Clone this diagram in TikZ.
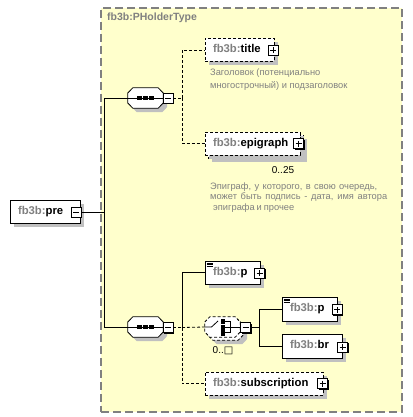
\documentclass[tikz,border=0pt]{standalone}
\usepackage{fontspec}
\setmainfont{Liberation Sans}
\newfontfamily\dejavu{DejaVu Sans}
\usetikzlibrary{shadows}
\definecolor{typefill}{RGB}{255,255,204}
\definecolor{typeborder}{RGB}{128,128,128}
\definecolor{pfx}{RGB}{128,128,128}
\definecolor{desc}{RGB}{128,128,128}
\definecolor{shade}{RGB}{192,192,192}
\newcommand\elname[1]{\textbf{\color{pfx}fb3b:}\textbf{#1}}
\newcommand\octa[2]{% #1 node name, #2 extra options
  \path[draw,fill=white,line width=0.8pt,#2]
    ([yshift=5pt]#1.west) -- ([xshift=5pt]#1.north west) -- ([xshift=-5pt]#1.north east)
    -- ([yshift=5pt]#1.east) -- ([yshift=-5pt]#1.east) -- ([xshift=-5pt]#1.south east)
    -- ([xshift=5pt]#1.south west) -- ([yshift=-5pt]#1.west) -- cycle;}
\newcommand\dline[2]{\makebox[#1pt][s]{#2}}
\begin{document}
\begin{tikzpicture}[x=1pt,y=-1pt,
 shad/.style={drop shadow={shadow xshift=4pt,shadow yshift=-4pt,fill=shade,opacity=1}},
 elem/.style={draw,fill=white,line width=0.8pt,shad,inner xsep=8pt,inner ysep=0pt,align=left,
   minimum height=23pt,font=\fontsize{11.3}{13}\selectfont,text height=8.2pt,text depth=2.4pt},
 opt/.style={elem,dash pattern=on 3pt off 2pt},
 btn/.style={draw,fill=white,line width=0.8pt,minimum size=10pt,inner sep=0pt,
   drop shadow={shadow xshift=1pt,shadow yshift=-1pt,fill=black,opacity=1}},
 minusbtn/.style={btn,path picture={\draw[line width=0.8pt] ([xshift=2pt]path picture bounding box.west) -- ([xshift=-2pt]path picture bounding box.east);}},
 plusbtn/.style={btn,path picture={\draw[line width=0.8pt] ([xshift=2pt]path picture bounding box.west) -- ([xshift=-2pt]path picture bounding box.east) ([yshift=-2pt]path picture bounding box.north) -- ([yshift=2pt]path picture bounding box.south);}},
 compbox/.style={minimum width=35pt,minimum height=20pt,inner sep=0pt},
 conn/.style={line width=0.8pt},
 dconn/.style={conn,dash pattern=on 3pt off 2pt},
 desctext/.style={anchor=west,inner sep=0pt,text=desc,font=\fontsize{9.3}{11}\selectfont},
 card/.style={inner sep=0pt,font=\fontsize{10}{12}\selectfont},
]
\useasboundingbox (0,0) rectangle (412,417);
% complex type box
\node[draw=typeborder,fill=typefill,line width=1.5pt,dash pattern=on 8pt off 4pt,
  minimum width=301pt,minimum height=404pt,inner sep=0pt] (type) at (251.5,210) {};
\node[anchor=west,inner sep=0pt,text=pfx] (typelbl) at (107,18) {\fontsize{10.5}{12}\selectfont\bfseries fb3b:PHolderType};

% root element
\node[elem,text width=54pt] (pre) at (45,211.5) {\elname{pre}};
\node[minusbtn] (prem) at (76,212) {};

% sequences
\node[compbox] (s1) at (145.5,98) {};
\node[compbox] (s2) at (145.5,327) {};
\octa{s1}{shad}
\octa{s2}{shad}
\node[minusbtn] (s1m) at (168,98) {};
\node[minusbtn] (s2m) at (168,327.5) {};
\foreach \s in {s1,s2}{
  \begin{scope}[shift={(\s.center)}]
    \draw[conn] (-17.5,0) -- (17.5,0);
    \foreach \cx in {-6,0,6} \fill (\cx-2.25,-2.25) rectangle (\cx+2.25,2.25);
  \end{scope}
}

% top sequence children
\node[opt,text width=53pt] (title) at (239.5,50) {\elname{title}};
\node[plusbtn] (titlep) at (273,50.5) {};
\node[desctext] (titled1) at (210,73) {Заголовок (потенциально};
\node[desctext] (titled2) at (210,86) {многострочный) и подзаголовок};

\node[opt,text width=79pt] (epiback) at (255.5,146.5) {\phantom{x}};
\node[opt,text width=79pt,drop shadow={opacity=0}] (epi) at (252.5,143.5) {\elname{epigraph}};
\node[plusbtn] (epip) at (298.5,143.5) {};
\node[card] (epicard) at (283,170) {0..25};
\node[desctext] (epid1) at (210,187) {\dline{167}{Эпиграф, у которого, в свою очередь,}};
\node[desctext] (epid2) at (210,197.5) {\dline{177}{может быть подпись - дата, имя автора}};
\node[desctext] (epid3) at (213,208.5) {\dline{81}{эпиграфа и прочее}};

% bottom sequence children
\node[elem,text width=39pt] (p) at (232.5,272.5) {\elname{p}};
\node[plusbtn] (pp) at (259.5,273) {};
\draw[line width=0.6pt] ([xshift=2pt,yshift=-2.2pt]p.north west) -- ++(6,0)
  ([xshift=2pt,yshift=-4pt]p.north west) -- ++(6,0)
  ([xshift=2pt,yshift=-5.8pt]p.north west) -- ++(6,0);

\node[compbox] (chback) at (225.5,330) {};
\node[compbox] (choice) at (222.5,327) {};
\octa{chback}{shad,dash pattern=on 3pt off 2pt}
\octa{choice}{dash pattern=on 3pt off 2pt}
\node[minusbtn] (choicem) at (245.5,327.5) {};
\begin{scope}[shift={(choice.center)}]
  \draw[conn] (-17.5,0) -- (-11,0) -- (-4.5,-6);
  \fill (-1.5,-8.5) rectangle (2.5,-3);
  \fill (-1.5,-2.5) rectangle (2.5,2.5);
  \fill (-1.5,3) rectangle (2.5,8.5);
  \draw[conn] (2.5,-5.5) -- (8,-5.5) -- (8,5.5) -- (2.5,5.5) (2.5,0) -- (17.5,0);
\end{scope}
\node[card] (chcard) at (223,351) {0..{\dejavu □}};

\node[elem,text width=39pt,minimum height=24pt] (p2) at (309.5,309) {\elname{p}};
\node[plusbtn] (p2p) at (337,309.5) {};
\draw[line width=0.6pt] ([xshift=2pt,yshift=-2.2pt]p2.north west) -- ++(6,0)
  ([xshift=2pt,yshift=-4pt]p2.north west) -- ++(6,0)
  ([xshift=2pt,yshift=-5.8pt]p2.north west) -- ++(6,0);
\node[elem,text width=44pt,minimum height=24pt] (br) at (312,346) {\elname{br}};
\node[plusbtn] (brp) at (342.5,347) {};

\node[opt,text width=102pt] (sub) at (264,383.5) {\elname{subscription}};
\node[plusbtn] (subp) at (322.5,383.5) {};

% connectors
\coordinate (ja) at (104,212);
\coordinate (jt) at (182,98);
\coordinate (jb) at (182,327.5);
\coordinate (jc) at (259,327.5);
\draw[conn] (prem.east) -- (ja);
\draw[conn] (ja) |- (s1.west);
\draw[conn] (ja) |- (s2.west);
\draw[dconn] (s1m.east) -- (jt);
\draw[dconn] (jt) |- (title.west);
\draw[dconn] (jt) |- (epi.west);
\draw[dconn] (s2m.east) -- (jb);
\draw[conn] (jb) |- (p.west);
\draw[dconn] (jb) -- (choice.west);
\draw[dconn] (jb) |- (sub.west);
\draw[conn] (choicem.east) -- (jc);
\draw[conn] (jc) |- (p2.west);
\draw[conn] (jc) |- (br.west);
\end{tikzpicture}
\end{document}
